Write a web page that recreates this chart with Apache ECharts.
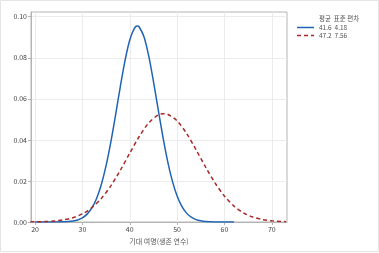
<!DOCTYPE html>
<html><head><meta charset="utf-8">
<script src="https://cdn.jsdelivr.net/npm/echarts@6/dist/echarts.min.js"></script>
<style>html,body{margin:0;padding:0;background:#fff}#c{width:379px;height:253px}</style>
</head><body><div id="c"></div>
<script>
// Blue curve (mean 41.6, sd 4.18)
var blueX = [20,22,24,26,27,28,29,30,31,32,33,34,35,36,37,38,39,40,41,41.6,42,43,44,45,46,47,48,49,50,51,52,53,54,55,56,58,60,62];
var blueY = [0.0000002,0.0000016,0.0000135,0.00009,0.000214,0.00048,0.00101,0.00203,0.00383,0.00683,0.01149,0.01828,0.02743,0.03891,0.05209,0.06586,0.07865,0.08870,0.09447,0.09544,0.09500,0.09024,0.08094,0.06856,0.05485,0.04143,0.02956,0.01992,0.01267,0.00762,0.00432,0.00232,0.00117,0.00056,0.00025,0.000043,0.0000059,0.0000006];
// Red dashed curve (mean 47.2, sd 7.56)
var redX = [19,20,22,24,26,28,30,32,34,36,38,40,42,44,46,47.2,48,50,52,54,56,58,60,62,64,66,68,70,72,73];
var redY = [0.00005,0.000082,0.000204,0.000476,0.00103,0.00210,0.00397,0.00699,0.01149,0.01761,0.02517,0.03353,0.04165,0.04825,0.05211,0.05277,0.05248,0.04927,0.04313,0.03521,0.02680,0.01902,0.01259,0.00776,0.00447,0.00240,0.00120,0.00056,0.00024,0.00016];
var xTicks = [20,30,40,50,60,70];
var yTicks = [0,0.02,0.04,0.06,0.08,0.10];
var legendHeader = '평균  표준 편차';
var seriesNames = ['41.6  4.18','47.2  7.56'];
var xTitle = '기대 여명(생존 연수)';

function pairs(xs, ys){ return xs.map(function(x,i){ return [x, ys[i]]; }); }

var blue = '#1f64b4', red = '#a82828';
var chart = echarts.init(document.getElementById('c'));
var font = 'Noto Sans CJK KR';
chart.setOption({
  animation: false,
  backgroundColor: '#fff',
  textStyle: {fontFamily: font},
  grid: {left: 31, right: 92, top: 12, bottom: 31, show: true, borderColor: '#b4b4b4', borderWidth: 1},
  xAxis: {
    type: 'value', min: 19.15, max: 73.2,
    name: xTitle, nameLocation: 'middle', nameGap: 14,
    nameTextStyle: {fontSize: 7, color: '#555', fontFamily: font},
    axisLine: {show: true, onZero: false, lineStyle: {color: '#b4b4b4'}},
    axisTick: {show: true, length: 3, customValues: xTicks, lineStyle: {color: '#b4b4b4'}},
    axisLabel: {customValues: xTicks, fontSize: 7, color: '#444', margin: 4, fontFamily: font},
    splitLine: {show: true, lineStyle: {color: '#ececec'}}
  },
  yAxis: {
    type: 'value', min: 0, max: 0.1023,
    axisLine: {show: true, lineStyle: {color: '#b4b4b4'}},
    axisTick: {show: true, length: 3, customValues: yTicks, lineStyle: {color: '#b4b4b4'}},
    axisLabel: {customValues: yTicks, fontSize: 7, color: '#444', margin: 4, fontFamily: font,
      formatter: function(v){ return v.toFixed(2); }},
    splitLine: {show: true, lineStyle: {color: '#ececec'}}
  },
  graphic: [
    {type: 'text', left: 319, top: 15, style: {text: legendHeader, fontSize: 6.5, fill: '#555', fontFamily: font}},
    {type: 'line', shape: {x1: 297, y1: 27.5, x2: 314, y2: 27.5}, style: {stroke: blue, lineWidth: 1.5}},
    {type: 'text', left: 319, top: 24, style: {text: seriesNames[0], fontSize: 6.5, fill: '#555', fontFamily: font}},
    {type: 'line', shape: {x1: 297, y1: 35.5, x2: 314, y2: 35.5}, style: {stroke: red, lineWidth: 1.5, lineDash: [4,3]}},
    {type: 'text', left: 319, top: 32, style: {text: seriesNames[1], fontSize: 6.5, fill: '#555', fontFamily: font}},
    {type: 'rect', shape: {x: 0.5, y: 0.5, width: 378, height: 251}, style: {fill: 'none', stroke: '#e4e4e4', lineWidth: 1}, silent: true}
  ],
  series: [
    {name: seriesNames[0], type: 'line', data: pairs(blueX, blueY), smooth: 0.3, showSymbol: false, symbol: 'none',
     lineStyle: {color: blue, width: 1.5}, itemStyle: {color: blue}},
    {name: seriesNames[1], type: 'line', data: pairs(redX, redY), smooth: 0.3, showSymbol: false, symbol: 'none',
     lineStyle: {color: red, width: 1.5, type: [4,3]}, itemStyle: {color: red}}
  ]
});
</script></body></html>
